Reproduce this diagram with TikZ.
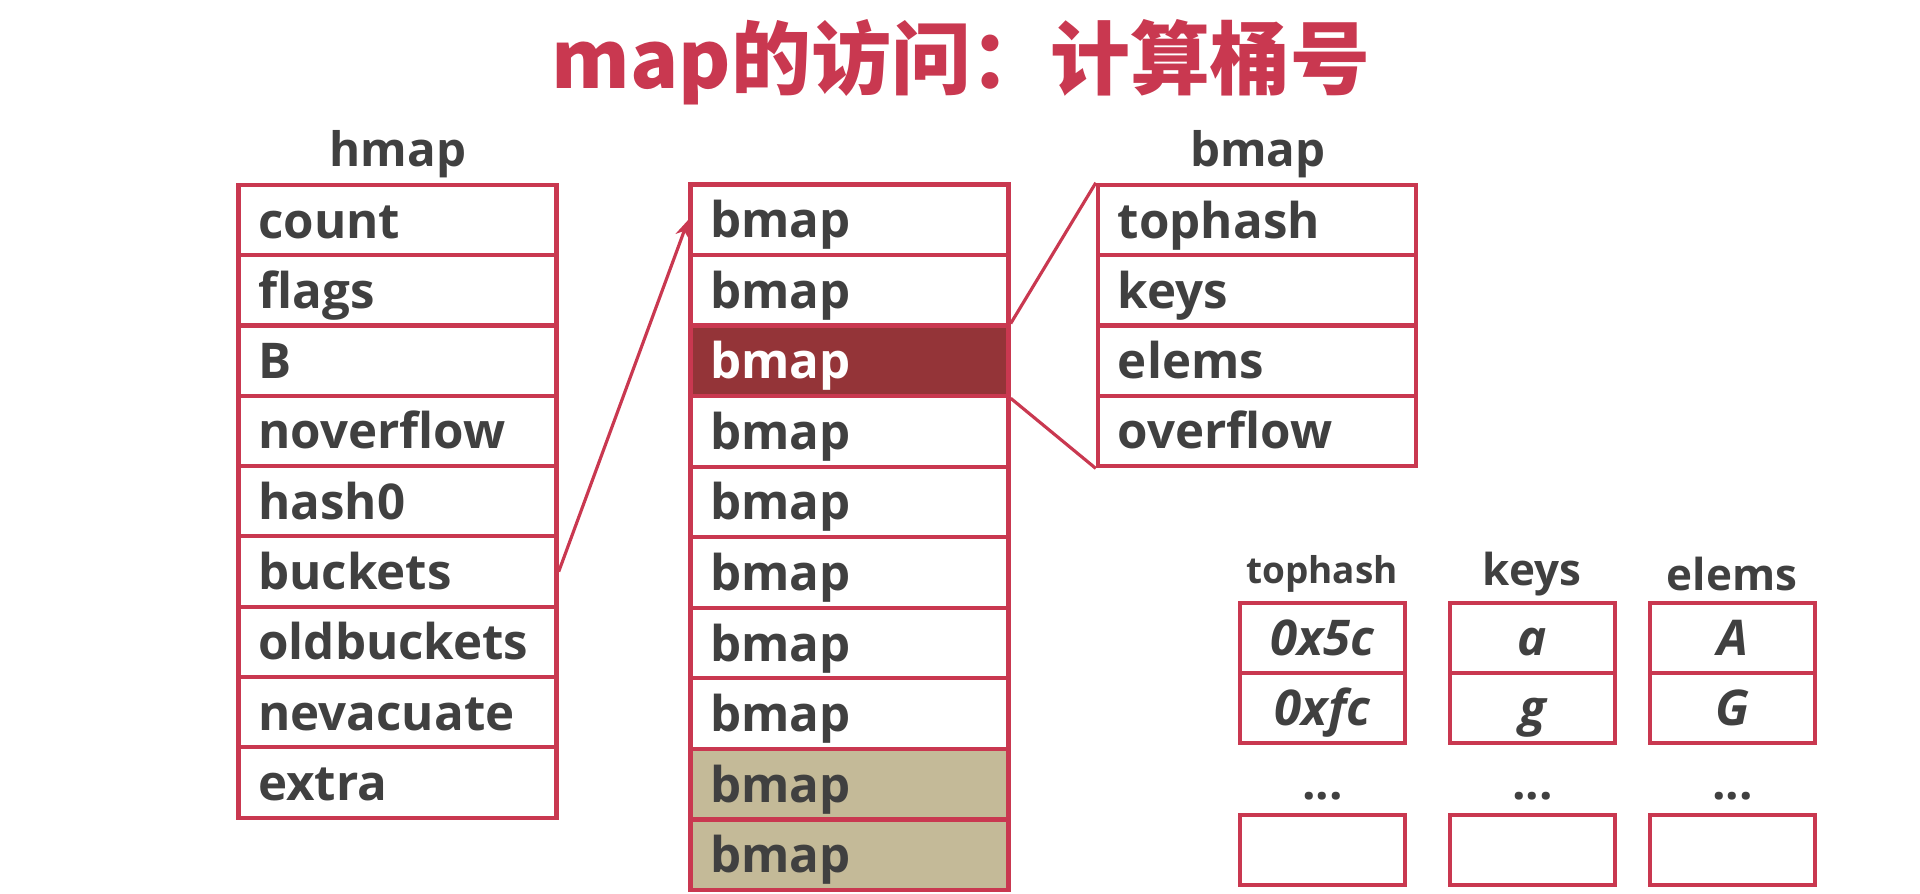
\documentclass[tikz,border=0pt]{standalone}
\usepackage{fontspec}
\setmainfont{Open Sans}
\newfontfamily\cjk{Noto Sans CJK SC}
\usetikzlibrary{calc,arrows.meta,positioning}
\definecolor{mapRed}{RGB}{201,56,80}
\definecolor{mapRedDark}{RGB}{148,52,56}
\definecolor{mapKhaki}{RGB}{196,186,152}
\definecolor{mapGray}{RGB}{64,64,64}

\tikzset{
  cell/.style={draw=mapRed, line width=1.2pt, fill=white, minimum width=3.18cm,
    minimum height=0.705cm, text width=2.78cm, inner xsep=0.2cm, inner ysep=0pt,
    text height=13pt, text depth=2.8pt, align=left,
    text=mapGray, font=\bfseries\fontsize{14pt}{16pt}\selectfont},
  hotcell/.style={cell, fill=mapRedDark, text=white},
  oldcell/.style={cell, fill=mapKhaki},
  slot/.style={draw=mapRed, line width=1.2pt, minimum width=1.65cm, minimum height=0.7cm,
    inner ysep=0pt, text height=13pt, text depth=3pt,
    text=mapGray, font=\bfseries\itshape\fontsize{14pt}{16pt}\selectfont},
  head/.style={text=mapGray, font=\bfseries\fontsize{13.5pt}{16pt}\selectfont},
  link/.style={draw=mapRed, line width=0.9pt}
}

\begin{document}
\begin{tikzpicture}[x=0.01cm, y=-0.01cm]
\useasboundingbox (0,0) rectangle (1920,894);

\node[text=mapRed, font=\cjk\bfseries\fontsize{22.7pt}{26pt}\selectfont] (title) at (961,62) {map的访问：计算桶号};

% hmap
\node[head] (hmapHead) at (398,154) {hmap};
\foreach \fld [count=\i] in {count,flags,B,noverflow,hash0,buckets,oldbuckets,nevacuate,extra}
  \node[cell] (h\i) at (397.5,{185+70.3*(\i-0.5)}) {\fld};

% bucket array
\foreach \i in {1,...,10}{
  \ifnum\i=3 \def\sty{hotcell}\else\ifnum\i>8 \def\sty{oldcell}\else\def\sty{cell}\fi\fi
  \node[\sty] (b\i) at (849.5,{184.5+70.55*(\i-0.5)}) {bmap};
}

% bmap
\node[head] (bmapHead) at (1258,154) {bmap};
\foreach \fld [count=\i] in {tophash,keys,elems,overflow}
  \node[cell] (f\i) at (1257,{185+70.3*(\i-0.5)}) {\fld};

% slots
\node[head, font=\bfseries\fontsize{10.5pt}{12pt}\selectfont] (thHead) at (1322,574) {tophash};
\node[head, font=\bfseries\fontsize{12.5pt}{14pt}\selectfont] (kHead) at (1532,574) {keys};
\node[head, font=\bfseries\fontsize{12.5pt}{14pt}\selectfont] (eHead) at (1732,574) {elems};
\foreach \x/\col/\one/\two in {1322.5/th/0x5c/0xfc, 1532.5/k/a/g, 1732.5/e/A/G}{
  \node[slot] (\col1) at (\x,638) {\one};
  \node[slot] (\col2) at (\x,708) {\two};
  \node[head] (\col dots) at (\x,796) {...};
  \node[slot] (\col last) at (\x,850) {};
}

\draw[link, -{Stealth[length=5pt,width=4pt]}] (h6.east) -- (b1.west);
\draw[link] (b3.north east) -- (f1.north west);
\draw[link] (b3.south east) -- (f4.south west);
\end{tikzpicture}
\end{document}
